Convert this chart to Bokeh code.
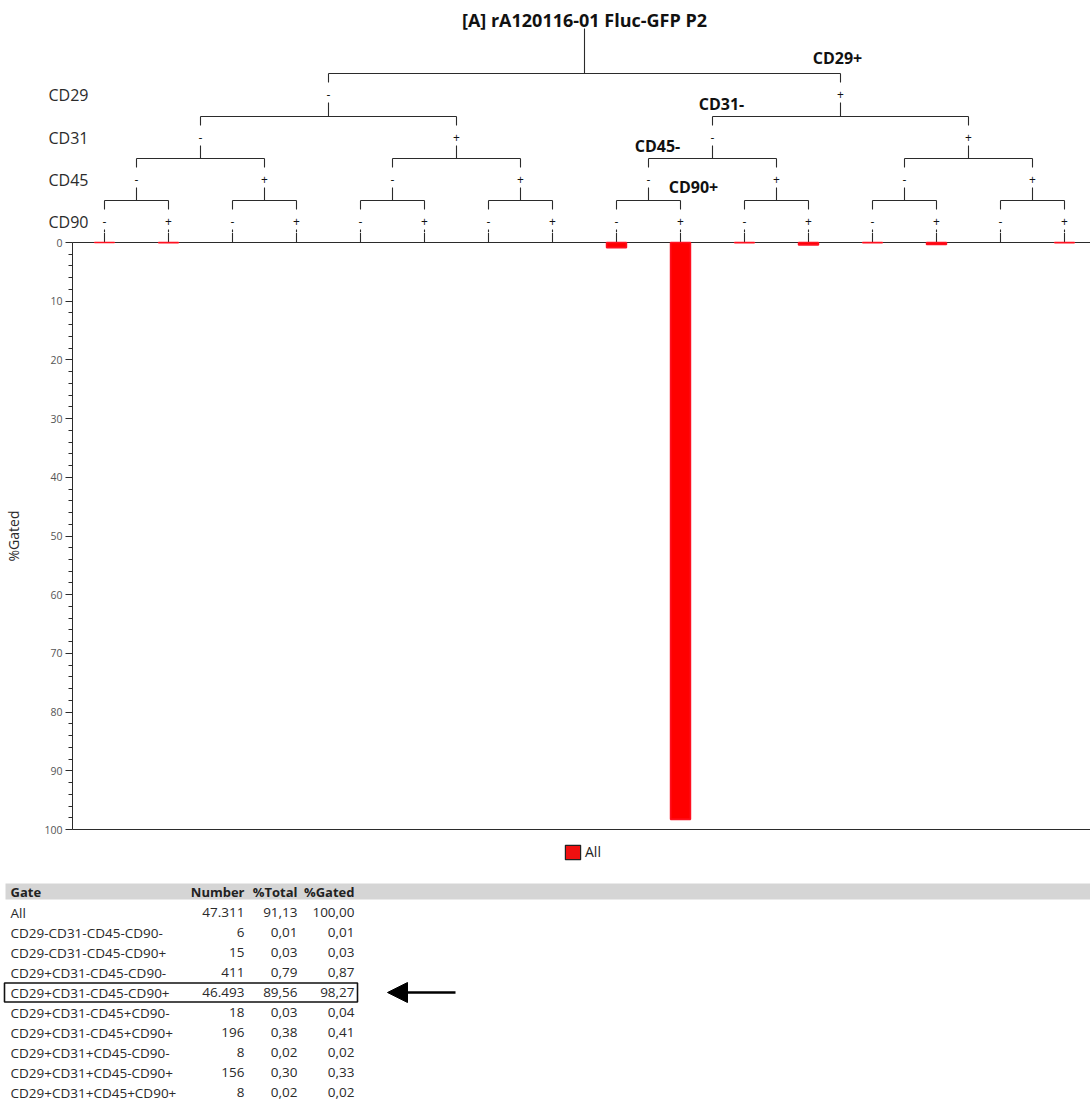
import re
from bokeh.plotting import figure
from bokeh.models import (Range1d, FixedTicker, Span, Legend, LegendItem, ColumnDataSource,
                          Label, Arrow, NormalHead)
from bokeh.layouts import column
from bokeh.embed import file_html
from bokeh.resources import INLINE
from bokeh.core.properties import value

# ---------------- data ----------------
TITLE = "[A] rA120116-01 Fluc-GFP P2"
markers = ["CD29", "CD31", "CD45", "CD90"]
gates = ["All",
         "CD29-CD31-CD45-CD90-", "CD29-CD31-CD45-CD90+",
         "CD29+CD31-CD45-CD90-", "CD29+CD31-CD45-CD90+",
         "CD29+CD31-CD45+CD90-", "CD29+CD31-CD45+CD90+",
         "CD29+CD31+CD45-CD90-", "CD29+CD31+CD45-CD90+",
         "CD29+CD31+CD45+CD90+"]
numbers = [47311, 6, 15, 411, 46493, 18, 196, 8, 156, 8]
pct_total = [91.13, 0.01, 0.03, 0.79, 89.56, 0.03, 0.38, 0.02, 0.30, 0.02]
pct_gated = [100.00, 0.01, 0.03, 0.87, 98.27, 0.04, 0.41, 0.02, 0.33, 0.02]
highlight_gate = "CD29+CD31-CD45-CD90+"
table_headers = ["Gate", "Number", "%Total", "%Gated"]
legend_label = "All"
y_ticks = list(range(0, 101, 10))
y_minor_ticks = list(range(0, 101, 2))
y_axis_label = "%Gated"

FONT = "Open Sans"
INK = "#2b2b2b"

# ---------------- helpers ----------------
def signs_of(gate):
    return [s for _, s in re.findall(r"(CD\d+)([+-])", gate)]

def leaf_index(signs):
    idx = 0
    for s in signs:
        idx = idx * 2 + (1 if s == "+" else 0)
    return idx

n_levels = len(markers)
n_leaves = 2 ** n_levels

W = 1090
LEFT = 72           # px left of the y axis
PXX = 64.0          # px per leaf
PPU = 5.87          # px per % unit
X_END = -0.5 + (W - LEFT) / PXX

def xp(px):
    return px / PXX

# ================= tree figure (page y 0..232) =================
H0 = 232
tree = figure(width=W, height=H0, x_range=Range1d(-0.5 - LEFT / PXX, X_END),
              y_range=Range1d(start=-(242 - H0), end=-242),
              toolbar_location=None, output_backend="svg",
              x_axis_location=None, y_axis_location=None,
              min_border=0, outline_line_color=None, frame_align=False,
              background_fill_color="white", border_fill_color="white")
tree.grid.visible = False

LEVEL_PX = [-169, -126, -84, -42]   # px above the 0 line
PATH_DX = [-3, 9, 9, 13]            # label offsets of the highlighted path (px)
PATH_DY = [-16, -13, -13, -14]
segs = dict(x0=[], y0=[], x1=[], y1=[])
sym = dict(x=[], y=[], t=[])

def seg(xa, ya, xb, yb):
    segs["x0"].append(xa); segs["y0"].append(ya)
    segs["x1"].append(xb); segs["y1"].append(yb)

root_c = (n_leaves - 1) / 2
seg(root_c, -214, root_c, LEVEL_PX[0])
leaf_x = []
for k in range(n_levels):
    span = n_leaves >> k
    half = span // 2
    y = LEVEL_PX[k]
    nxt = LEVEL_PX[k + 1] if k + 1 < n_levels else -(242 - H0)
    for g in range(2 ** k):
        lc = g * span + (half - 1) / 2
        rc = lc + half
        seg(lc, y, rc, y)
        for c, s in ((lc, "-"), (rc, "+")):
            seg(c, y, c, y + 9)
            sym["x"].append(c); sym["y"].append(y + 21); sym["t"].append(s)
            seg(c, y + 29, c, nxt)
            if k == n_levels - 1:
                leaf_x.append(c)
tree.segment(x0="x0", y0="y0", x1="x1", y1="y1", source=ColumnDataSource(segs),
             line_color=INK, line_width=1.1)
tree.text(x="x", y="y", text="t", source=ColumnDataSource(sym),
          text_font=value(FONT), text_font_size="12px", text_color="#111111",
          text_align="center", text_baseline="middle")

for k, m in enumerate(markers):
    tree.add_layout(Label(x=-0.5 - xp(LEFT - 48), y=LEVEL_PX[k] + 21, text=m,
                          text_font=FONT, text_font_size="16px", text_color=INK,
                          text_align="left", text_baseline="middle"))

hs = signs_of(highlight_gate)
lo, hi = 0, n_leaves
for k, s in enumerate(hs):
    half = (hi - lo) // 2
    if s == "-":
        hi = lo + half
    else:
        lo = lo + half
    node_x = (lo + hi - 1) / 2
    tree.add_layout(Label(x=node_x + xp(PATH_DX[k]), y=LEVEL_PX[k] + PATH_DY[k],
                          text=markers[k] + s, text_font=FONT, text_font_style="bold",
                          text_font_size="16px", text_color="#111111",
                          text_align="center", text_baseline="middle"))

tree.add_layout(Label(x=root_c, y=19 - 242, text=TITLE, text_font=FONT,
                      text_font_style="bold", text_font_size="18px", text_color="#111111",
                      text_align="center", text_baseline="middle"))

# ================= chart figure (page y 232..839) =================
TOP_PAD = 242 - H0          # px between frame top and the 0 line
H1 = 607                    # 0 line at 10 px, 100 line at 597 px
p = figure(width=W, height=H1, x_range=Range1d(-0.5, X_END),
           y_range=Range1d(start=(H1 - TOP_PAD) / PPU, end=-TOP_PAD / PPU),
           toolbar_location=None, output_backend="svg",
           x_axis_location=None, y_axis_location="left",
           min_border_left=LEFT, min_border_right=0, min_border_top=0, min_border_bottom=0,
           outline_line_color=None, frame_align=False,
           background_fill_color="white", border_fill_color="white")
p.grid.visible = False

ax = p.yaxis[0]
ax.ticker = FixedTicker(ticks=y_ticks, minor_ticks=y_minor_ticks)
ax.bounds = (0, 100)
ax.major_label_text_font = FONT
ax.major_label_text_font_size = "10.5px"
ax.major_label_text_color = "#555555"
ax.major_label_standoff = 3
ax.major_tick_out = 7
ax.major_tick_in = 0
ax.minor_tick_out = 4
ax.minor_tick_in = 0
ax.axis_line_color = INK
ax.major_tick_line_color = INK
ax.minor_tick_line_color = INK
ax.axis_label = y_axis_label
ax.axis_label_text_font = FONT
ax.axis_label_text_font_size = "14px"
ax.axis_label_text_font_style = "normal"
ax.axis_label_text_color = INK
ax.axis_label_standoff = 18

p.add_layout(Span(location=0, dimension="width", line_color=INK, line_width=1, level="underlay"))
p.add_layout(Span(location=100, dimension="width", line_color=INK, line_width=1.2, level="underlay"))

# leaf stems continuing from the tree down to the 0 line
p.segment(x0=leaf_x, y0=[-TOP_PAD / PPU] * len(leaf_x), x1=leaf_x, y1=[0] * len(leaf_x),
          line_color=INK, line_width=1.1)

bar_x, bar_top = [], []
for g, v in zip(gates, pct_gated):
    s = signs_of(g)
    if len(s) == n_levels:
        bar_x.append(leaf_index(s))
        bar_top.append(v)
bars = p.vbar(x=bar_x, top=bar_top, bottom=0, width=0.31,
              fill_color="#ff0000", line_color="#ff1020", line_width=1.6)

# ================= table figure (page y 839..1100) =================
H2 = 261
OFF = 870 - 839
t = figure(width=W, height=H2, x_range=Range1d(0, W), y_range=Range1d(H2, 0),
           toolbar_location=None, output_backend="svg",
           x_axis_location=None, y_axis_location=None,
           min_border=0, outline_line_color=None, frame_align=False,
           background_fill_color="white", border_fill_color="white")
t.grid.visible = False

# legend of the bar series (sits just under the chart)
dummy = t.vbar(x=[0], top=[0], width=1, fill_color="#f01010",
               line_color="#222222", line_width=1.2, visible=False)
LEG_H = 18
leg_bottom_page = 852 + LEG_H / 2
legend = Legend(items=[LegendItem(label=legend_label, renderers=[dummy])],
                location=(563, H2 - (leg_bottom_page - 839)), padding=0, margin=0, spacing=0,
                glyph_width=19, glyph_height=LEG_H, label_height=LEG_H, label_standoff=3,
                label_text_font=FONT, label_text_font_size="14px", label_text_color="#222222",
                background_fill_alpha=0, border_line_alpha=0)
t.add_layout(legend, "center")

HEAD_Y = OFF + 21
ROW0 = OFF + 42
ROW_H = 20
COL_GATE = 10
COL_RIGHT = [244, 297, 354]

t.quad(left=[5], right=[W], top=[HEAD_Y - 8], bottom=[HEAD_Y + 8],
       fill_color="#d5d5d5", line_color=None)

hdr = ColumnDataSource(dict(x=[COL_GATE] + COL_RIGHT, y=[HEAD_Y] * 4, t=table_headers,
                            a=["left", "right", "right", "right"]))
t.text(x="x", y="y", text="t", text_align="a", source=hdr, text_font=value(FONT),
       text_font_style="bold", text_font_size="13px", text_color="#222222",
       text_baseline="middle")

row_y = [ROW0 + ROW_H * i for i in range(len(gates))]
fmt_num = [f"{n:,}".replace(",", ".") for n in numbers]
fmt_tot = [f"{v:.2f}".replace(".", ",") for v in pct_total]
fmt_gat = [f"{v:.2f}".replace(".", ",") for v in pct_gated]
t.text(x=COL_GATE, y=row_y, text=gates, text_font=value(FONT), text_font_size="13.5px",
       text_color="#2a2a2a", text_align="left", text_baseline="middle")
for cx, col in zip(COL_RIGHT, [fmt_num, fmt_tot, fmt_gat]):
    t.text(x=cx, y=row_y, text=col, text_font=value(FONT), text_font_size="13.5px",
           text_color="#2a2a2a", text_align="right", text_baseline="middle")

hi_row = row_y[gates.index(highlight_gate)]
t.quad(left=[4], right=[357], top=[hi_row - 9.5], bottom=[hi_row + 9.5],
       fill_alpha=0, line_color="#111111", line_width=1.6)
t.add_layout(Arrow(end=NormalHead(size=20, fill_color="black", line_color="black"),
                   x_start=455, y_start=hi_row, x_end=387, y_end=hi_row,
                   line_width=2.5, line_color="black"))

layout = column(tree, p, t, spacing=0)
open("out.html", "w").write(file_html(layout, INLINE))
